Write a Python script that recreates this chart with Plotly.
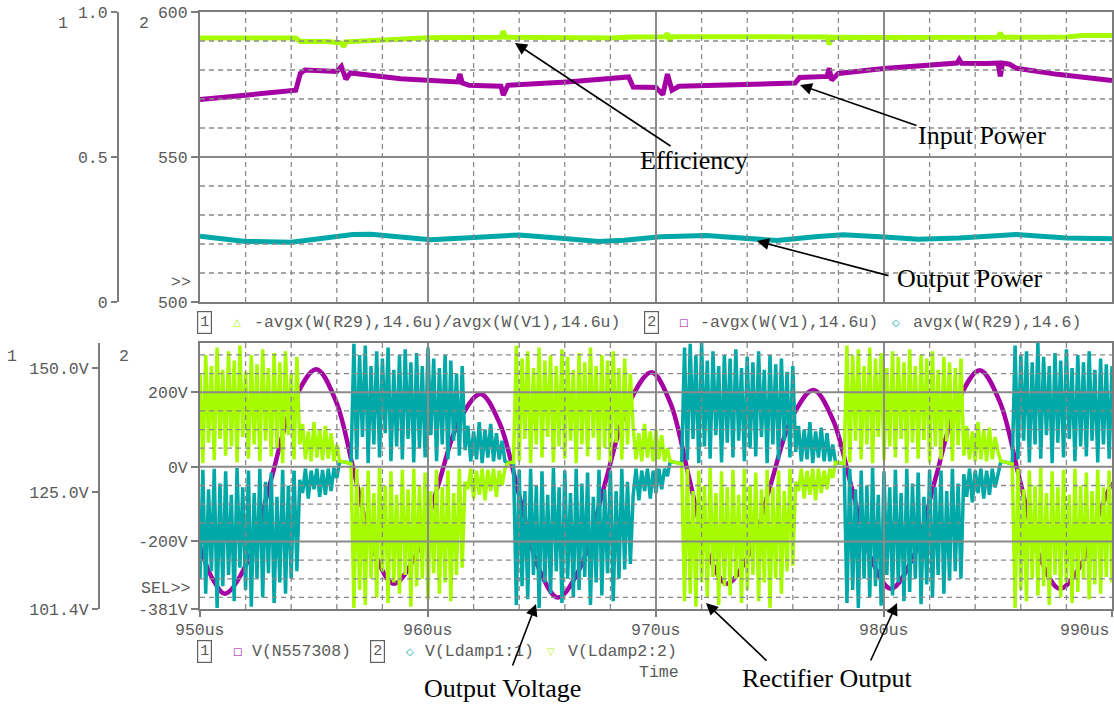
import numpy as np
import plotly.graph_objects as go

W, H = 1114, 704

# ---------------- upper panel: averaged powers and efficiency ----------------
eff_t = [950.0, 954.2, 954.4, 955.6, 956.2, 956.3, 956.4, 958.0, 960.0, 963.2, 963.3, 963.4,
         966.0, 968.0, 969.0, 970.4, 970.5, 970.6, 970.7, 974.0, 977.5, 977.6, 977.7, 980.0,
         985.0, 985.1, 985.2, 988.0, 988.7, 990.0]
eff_v = [0.910, 0.910, 0.898, 0.898, 0.893, 0.880, 0.897, 0.903, 0.911, 0.913, 0.934, 0.913,
         0.912, 0.910, 0.914, 0.915, 0.926, 0.900, 0.915, 0.914, 0.914, 0.888, 0.913, 0.912,
         0.913, 0.928, 0.913, 0.914, 0.919, 0.919]

pin_t = [950.0, 954.2, 954.4, 954.6, 956.0, 956.2, 956.4, 956.6, 958.8, 960.0, 961.3, 961.4,
         961.5, 961.8, 963.2, 963.3, 963.5, 966.1, 968.8, 969.0, 970.0, 970.3, 970.5, 970.7,
         971.0, 976.1, 976.3, 977.5, 977.6, 977.7, 978.0, 980.0, 981.8, 983.2, 983.3, 983.4,
         984.5, 985.0, 985.1, 985.2, 985.5, 985.8, 987.6, 990.0]
pin_v = [569.8, 573.0, 578.8, 580.0, 579.5, 581.2, 576.8, 579.0, 577.0, 576.4, 575.9, 578.6,
         575.6, 574.7, 574.4, 571.3, 574.7, 575.9, 577.6, 574.1, 574.0, 571.5, 578.6, 573.0,
         574.4, 575.5, 577.4, 577.8, 580.6, 576.5, 578.8, 580.5, 581.6, 582.4, 583.6, 582.3,
         582.2, 582.4, 577.8, 582.4, 582.0, 580.6, 578.5, 576.4]

pout_t = [950.0, 951.0, 952.0, 954.0, 955.3, 956.7, 957.5, 958.6, 960.1, 961.6, 963.2, 964.0,
          966.1, 967.5, 968.6, 970.2, 972.2, 974.1, 975.3, 977.1, 978.2, 980.0, 981.5, 983.3,
          985.8, 988.0, 990.0]
pout_v = [522.7, 521.8, 520.9, 520.6, 521.8, 523.3, 523.4, 522.6, 521.5, 522.1, 523.0, 523.1,
          521.8, 520.9, 521.3, 522.5, 522.9, 521.8, 521.2, 522.6, 523.2, 522.4, 521.6, 522.1,
          523.3, 522.1, 521.8]

# ---------------- lower panel: output voltage and damping-inductor nodes ----------------
vout_t = [950.0, 950.55, 951.1, 952.1, 953.1, 954.1, 955.1, 955.95, 956.8, 957.65, 958.5,
          959.45, 960.4, 961.35, 962.3, 963.15, 964.0, 964.85, 965.7, 966.73, 967.75, 968.78,
          969.8, 970.63, 971.45, 972.28, 973.1, 974.05, 975.0, 975.95, 976.9, 977.75, 978.6,
          979.45, 980.3, 981.28, 982.25, 983.23, 984.2, 985.08, 985.95, 986.83, 987.7, 988.6,
          989.5, 990.0]
vout_v = [114.0, 107.5, 104.5, 111.1, 127.2, 143.2, 149.8, 143.5, 128.2, 112.8, 106.5,
          112.1, 125.7, 139.2, 144.8, 138.8, 124.3, 109.7, 103.7, 110.3, 126.5, 142.6,
          149.2, 143.0, 127.9, 112.7, 106.5, 112.2, 126.1, 139.9, 145.6, 139.7, 125.6,
          111.4, 105.5, 111.9, 127.6, 143.2, 149.6, 143.2, 127.6, 111.9, 105.5, 110.0,
          121.5, 127.0]

# node voltages, one sample every SAMPLE_US starting at 950us
# (switching bursts, low-level ringing and idle stretches in turn)
SAMPLE_US = 0.125
ldamp1 = (
    [-300, -8, -340, -60, -280, -5, -378, -45, -320, -12, -290, -75, -360, -3, -270, -55, -330, -10,
     -375, -70, -300, -5, -350, -40, -285, -15, -365, -80, -310, -8, -340, -50, -300, -10, -280, -35]
    + [-70, -5, -85, -10, -60, -5, -80, -8, -75, -5, -65, -3, -30]
    + [15, 14, 13, 11, 8]
    + [330, 20, 300, 80, 325, 10, 270, 60, 310, 25, 290, 90, 320, 15, 260, 55, 300, 20, 315, 75,
       280, 12, 305, 50, 270, 25, 320, 85, 290, 15, 265, 60, 300, 20, 285, 70, 250, 30, 270, 45]
    + [110, 15, 95, 20, 120, 10, 100, 25, 115, 15, 90, 20, 70, 15]
    + [10, 12, 12]
    + [-370, -8, -320, -65, -355, -5, -290, -50, -378, -12, -310, -75, -340, -3, -280, -55, -365, -10,
       -300, -70, -350, -5, -330, -45, -295, -15, -370, -80, -310, -8, -345, -60, -285, -10, -360, -65,
       -300, -5, -275, -40, -260]
    + [-75, -5, -90, -10, -65, -5, -85, -10, -70, -5, -60, -5, -25]
    + [15, 14, 12, 10, 8]
    + [320, 18, 330, 75, 300, 10, 332, 55, 285, 22, 310, 85, 270, 12, 300, 65, 290, 25, 315, 70,
       265, 15, 295, 50, 280, 28, 310, 80, 260, 10, 300, 60, 275, 20, 290, 70, 255, 25, 270, 40]
    + [110, 15, 100, 20, 120, 10, 95, 25, 105, 15, 90, 15, 60]
    + [12, 12, 10, 8]
    + [-365, -5, -330, -60, -378, -10, -300, -50, -350, -3, -320, -75, -372, -12, -290, -55, -345, -8,
       -310, -70, -360, -5, -335, -45, -300, -15, -368, -80, -315, -8, -350, -55, -290, -10, -340, -65,
       -305, -5, -280, -45, -300, -20]
    + [-80, -5, -95, -10, -70, -5, -85, -10, -75, -5, -55, -20]
    + [15, 14, 12, 10, 8]
    + [325, 20, 300, 70, 310, 12, 280, 60, 332, 22, 295, 85, 270, 10, 305, 65, 285, 25, 315, 75,
       265, 15, 300, 55, 280, 28, 310, 70, 260, 12, 290, 60, 275, 22, 270]
)
ldamp2 = (
    [250, 10, 300, 65, 270, 18, 320, 75, 260, 30, 310, 55, 285, 12, 325, 80, 255, 22,
     300, 60, 275, 15, 315, 70, 265, 28, 305, 50, 280, 10, 310, 85, 250, 20, 295, 60]
    + [115, 20, 95, 15, 120, 25, 100, 18, 110, 22, 90, 15, 60]
    + [15, 14, 13, 11, 8]
    + [-378, -5, -330, -55, -370, -10, -300, -70, -350, -3, -280, -50, -365, -12, -310, -75, -340, -8,
       -290, -60, -375, -5, -320, -50, -300, -15, -355, -65, -285, -8, -340, -55, -310, -10, -360, -70,
       -290, -5, -270, -40]
    + [-60, -5, -85, -10, -75, -5, -90, -8, -65, -5, -80, -10, -50, -5]
    + [10, 12, 12]
    + [325, 15, 290, 75, 310, 10, 265, 60, 320, 25, 285, 80, 300, 12, 270, 55, 315, 22, 295, 70,
       260, 10, 305, 60, 280, 28, 320, 78, 270, 18, 300, 50, 285, 12, 310, 65, 265, 20, 290, 60, 250]
    + [105, 20, 90, 15, 115, 25, 95, 15, 100, 20, 85, 15, 50]
    + [15, 14, 12, 10, 8]
    + [-360, -5, -340, -65, -375, -10, -310, -50, -350, -3, -295, -70, -370, -12, -320, -55, -345, -8,
       -300, -75, -365, -5, -330, -50, -290, -15, -360, -60, -310, -8, -378, -55, -300, -10, -340, -65,
       -280, -5, -265, -40]
    + [-65, -5, -85, -10, -75, -5, -90, -5, -70, -10, -60, -5, -30]
    + [12, 12, 10, 8]
    + [325, 12, 300, 70, 315, 20, 270, 60, 320, 10, 290, 80, 305, 18, 265, 55, 310, 25, 295, 75,
       280, 10, 315, 65, 270, 22, 300, 72, 290, 12, 310, 55, 260, 20, 295, 68, 280, 15, 265, 58, 290, 30]
    + [110, 20, 95, 15, 120, 20, 100, 15, 105, 20, 80, 40]
    + [15, 14, 12, 10, 8]
    + [-378, -5, -330, -60, -360, -10, -300, -50, -345, -3, -320, -70, -370, -12, -290, -55, -350, -8,
       -310, -75, -365, -5, -335, -50, -300, -15, -355, -65, -315, -8, -340, -55, -295, -10, -310]
)
t_samp = 950.0 + SAMPLE_US * np.arange(len(ldamp1))

# axis ticks and grid
x_major = [950, 960, 970, 980, 990]
x_minor = [952, 954, 956, 958, 962, 964, 966, 968, 972, 974, 976, 978, 982, 984, 986, 988]
top_ticks = [500, 550, 600]
top_minor = [510, 520, 530, 540, 560, 570, 580, 590]
eff_ticks = [0, 0.5, 1.0]
eff_labels = ["0", "0.5", "1.0"]
bot_ticks = [-381, -200, 0, 200]
bot_labels = ["-381V", "-200V", "0V", "200V"]
bot_minor = [-350, -300, -250, -150, -100, -50, 50, 100, 150, 250, 300]
vout_ticks = [101.4, 125.0, 150.0]
vout_labels = ["101.4V", "125.0V", "150.0V"]
x_labels = ["950us", "960us", "970us", "980us", "990us"]

GREEN = "#a6fb00"
TEAL = "#00a8a8"
PURPLE = "#a400a4"
FRAME = "#7c7c7c"
GRID = "#8a8a8a"
TXT = "#5a5a5a"
MONO = dict(family="Liberation Mono, Courier New, monospace", size=16.5, color=TXT)
SERIF = dict(family="Liberation Serif, Times New Roman, serif", size=26, color="black")

XDOM = [200 / W, 1112 / W]
TOP_DOM = [1 - 302 / H, 1 - 12 / H]
BOT_DOM = [1 - 609 / H, 1 - 343 / H]

fig = go.Figure()

# upper panel traces
fig.add_trace(go.Scatter(x=pin_t, y=pin_v, xaxis="x", yaxis="y", mode="lines",
                         line=dict(color=PURPLE, width=5), name="input power"))
fig.add_trace(go.Scatter(x=pout_t, y=pout_v, xaxis="x", yaxis="y", mode="lines",
                         line=dict(color=TEAL, width=5), name="output power"))
fig.add_trace(go.Scatter(x=eff_t, y=eff_v, xaxis="x", yaxis="y3", mode="lines",
                         line=dict(color=GREEN, width=5), name="efficiency"))

# lower panel traces: output voltage on the base axis, node voltages on the overlay (drawn above)
fig.add_trace(go.Scatter(x=vout_t, y=vout_v, xaxis="x2", yaxis="y2", mode="lines",
                         line=dict(color=PURPLE, width=4.5, shape="spline"), name="V(N557308)"))
fig.add_trace(go.Scatter(x=t_samp, y=ldamp1, xaxis="x2", yaxis="y4", mode="lines",
                         line=dict(color=TEAL, width=3.5), name="V(Ldamp1:1)"))
fig.add_trace(go.Scatter(x=t_samp, y=ldamp2, xaxis="x2", yaxis="y4", mode="lines",
                         line=dict(color=GREEN, width=3.5), name="V(Ldamp2:2)"))

frame = dict(showline=True, mirror=True, linecolor=FRAME, linewidth=2,
             showgrid=False, zeroline=False, automargin=False)
yfree = dict(showline=True, linecolor=FRAME, linewidth=2, showgrid=False, zeroline=False,
             ticks="outside", ticklen=6, tickwidth=1.5, tickcolor=FRAME, tickfont=MONO,
             anchor="free", side="left", automargin=False)

fig.update_layout(
    width=W, height=H, autosize=False,
    margin=dict(l=0, r=0, t=0, b=0, pad=0),
    paper_bgcolor="white", plot_bgcolor="white",
    showlegend=False,
    xaxis=dict(domain=XDOM, anchor="y", range=[950, 990], showticklabels=False, ticks="", **frame),
    yaxis=dict(domain=TOP_DOM, anchor="x", range=[500, 600], tickvals=top_ticks,
               ticks="outside", ticklen=7, tickwidth=1.5, tickcolor=FRAME, tickfont=MONO, **frame),
    yaxis3=dict(overlaying="y", position=118 / W, range=[0, 1], tickvals=eff_ticks,
                ticktext=eff_labels, **yfree),
    xaxis2=dict(domain=XDOM, anchor="y2", range=[950, 990], tickvals=x_major, showticklabels=False,
                ticks="outside", ticklen=6, tickwidth=1.5, tickcolor=FRAME, **frame),
    yaxis2=dict(domain=BOT_DOM, position=99 / W, range=[101.4, 155.1], tickvals=vout_ticks,
                ticktext=vout_labels, **yfree),
    yaxis4=dict(overlaying="y2", anchor="x2", range=[-381, 332], tickvals=bot_ticks, ticktext=bot_labels,
                ticks="outside", ticklen=7, tickwidth=1.5, tickcolor=FRAME, tickfont=MONO, side="left",
                **frame),
)

# grid drawn over the traces, dashed minor / solid major
shapes = []
dash = dict(color=GRID, width=1.3, dash="5px,4px")
solid = dict(color=GRID, width=2)
for xr, yr in (("x", "y"), ("x2", "y4")):
    for v in x_minor:
        shapes.append(dict(type="line", xref=xr, yref=yr + " domain", x0=v, x1=v, y0=0, y1=1,
                           line=dash, layer="above"))
    for v in x_major[1:-1]:
        shapes.append(dict(type="line", xref=xr, yref=yr + " domain", x0=v, x1=v, y0=0, y1=1,
                           line=solid, layer="above"))
for v in top_minor:
    shapes.append(dict(type="line", xref="x domain", yref="y", x0=0, x1=1, y0=v, y1=v,
                       line=dash, layer="above"))
shapes.append(dict(type="line", xref="x domain", yref="y", x0=0, x1=1, y0=550, y1=550,
                   line=solid, layer="above"))
for v in bot_minor:
    shapes.append(dict(type="line", xref="x2 domain", yref="y4", x0=0, x1=1, y0=v, y1=v,
                       line=dash, layer="above"))
for v in bot_ticks[1:]:
    shapes.append(dict(type="line", xref="x2 domain", yref="y4", x0=0, x1=1, y0=v, y1=v,
                       line=solid, layer="above"))
fig.update_layout(shapes=shapes)


def P(x, y):
    return x / W, 1 - y / H


ann = []


def text(x, y, s, font=MONO, xanchor="center", **kw):
    px, py = P(x, y)
    ann.append(dict(x=px, y=py, xref="paper", yref="paper", text=s, showarrow=False,
                    xanchor=xanchor, yanchor="middle", font=font, **kw))


def boxed(x, y, s):
    text(x, y, s, font=dict(family=MONO["family"], size=15, color=TXT),
         bordercolor="#606060", borderwidth=1.2, borderpad=2)


def glyph(x, y, s, color):
    text(x, y, s, font=dict(family="DejaVu Sans", size=10, color=color))


def arrow(tail, head):
    hx, hy = P(*head)
    ann.append(dict(x=hx, y=hy, xref="paper", yref="paper", text="", showarrow=True,
                    ax=tail[0] - head[0], ay=tail[1] - head[1], arrowhead=2, arrowsize=1.5,
                    arrowwidth=1.6, arrowcolor="black", standoff=0, startstandoff=0))


# axis numbers
text(63, 23, "1")
text(144, 23, "2")
text(12, 356, "1")
text(124, 356, "2")
text(193, 282, "&gt;&gt;", xanchor="right")
text(193, 588, "SEL&gt;&gt;", xanchor="right")

# time labels under the lower panel
for v, lab in zip(x_major, x_labels):
    ax_x = XDOM[0] + (v - 950) / 40 * (XDOM[1] - XDOM[0])
    ann.append(dict(x=ax_x, y=P(0, 630)[1], xref="paper", yref="paper", text=lab,
                    showarrow=False, xanchor="right" if v == 990 else "center",
                    yanchor="middle", font=MONO))
text(637, 672, "Time", xanchor="left")

# trace legends
boxed(204, 323, "1")
glyph(237, 323, "△", GREEN)
text(252, 323, "-avgx(W(R29),14.6u)/avgx(W(V1),14.6u)", xanchor="left")
boxed(651, 323, "2")
glyph(683, 323, "□", PURPLE)
text(698, 323, "-avgx(W(V1),14.6u)", xanchor="left")
glyph(896, 323, "◇", TEAL)
text(911, 323, "avgx(W(R29),14.6)", xanchor="left")

boxed(204, 651, "1")
glyph(237, 651, "□", PURPLE)
text(250, 651, "V(N557308)", xanchor="left")
boxed(377, 651, "2")
glyph(410, 651, "◇", TEAL)
text(423, 651, "V(Ldamp1:1)", xanchor="left")
glyph(551, 651, "▽", GREEN)
text(566, 651, "V(Ldamp2:2)", xanchor="left")

# callouts
text(694, 160, "Efficiency", font=SERIF)
arrow((672, 147), (515, 43))
text(982, 135, "Input Power", font=SERIF)
arrow((918, 126), (800, 85))
text(970, 278, "Output Power", font=SERIF)
arrow((890, 276), (757, 241))
text(502, 688, "Output Voltage", font=SERIF)
arrow((512, 667), (536, 604))
text(827, 678, "Rectifier Output", font=SERIF)
arrow((768, 662), (706, 603))
arrow((870, 662), (897, 603))

fig.update_layout(annotations=ann)
fig.write_html("out.html", config={"displayModeBar": False})
